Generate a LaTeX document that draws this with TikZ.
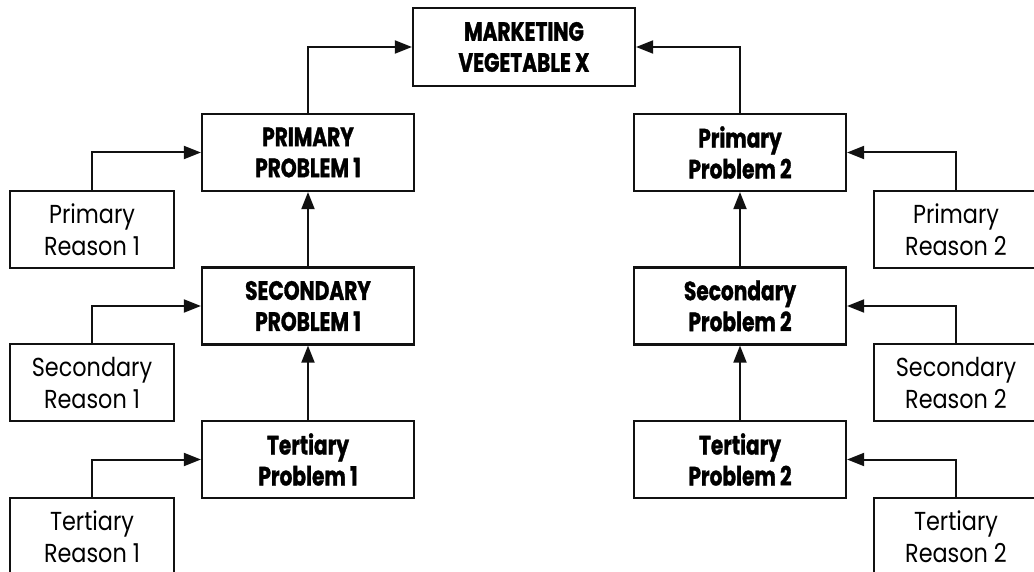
\documentclass[tikz,border=0pt]{standalone}
\usepackage{fontspec}
\setmainfont{Poppins}[FakeStretch=0.86]
\newfontfamily\probfont{Poppins}[UprightFont=* Bold,FakeStretch=0.76,FakeBold=1.2]
\usepackage{tikz}
\usetikzlibrary{arrows.meta}
\definecolor{vegInk}{HTML}{111111}

\begin{document}
\begin{tikzpicture}[x=1pt,y=1pt,
  goal/.style={draw=vegInk,line width=2.2pt,minimum width=222pt,minimum height=78pt,
               inner sep=0pt,align=center,font=\probfont\fontsize{26.5}{31}\selectfont},
  prob/.style={draw=vegInk,line width=2.2pt,minimum width=212pt,minimum height=77pt,
               inner sep=0pt,align=center,font=\probfont\fontsize{26.5}{31}\selectfont},
  reason/.style={draw=vegInk,line width=2.2pt,minimum width=164pt,minimum height=77pt,
               inner sep=0pt,align=center,font=\fontsize{26}{32}\selectfont},
  arr/.style={-{Triangle[length=17pt,width=13pt]},vegInk,line width=2pt}]

\useasboundingbox (0,0) rectangle (1034,-572);

%% Goal (top)
\node[goal] (goal) at (524,-47) {MARKETING\\VEGETABLE X};

%% Problem chain 1 (left)
\node[prob] (pp1) at (308,-152.5) {PRIMARY\\PROBLEM 1};
\node[prob] (sp1) at (308,-306)   {SECONDARY\\PROBLEM 1};
\node[prob] (tp1) at (308,-459.5) {Tertiary\\Problem 1};

\node[reason] (pr1) at (92,-229.5) {Primary\\Reason 1};
\node[reason] (sr1) at (92,-382.5) {Secondary\\Reason 1};
\node[reason] (tr1) at (92,-536.5) {Tertiary\\Reason 1};

%% Problem chain 2 (right)
\node[prob] (pp2) at (740,-152.5) {Primary\\Problem 2};
\node[prob] (sp2) at (740,-306)   {Secondary\\Problem 2};
\node[prob] (tp2) at (740,-459.5) {Tertiary\\Problem 2};

\node[reason] (pr2) at (956,-229.5) {Primary\\Reason 2};
\node[reason] (sr2) at (956,-382.5) {Secondary\\Reason 2};
\node[reason] (tr2) at (956,-536.5) {Tertiary\\Reason 2};

%% Arrows
\draw[arr] (pp1.north) |- (goal.west);
\draw[arr] (pp2.north) |- (goal.east);
\draw[arr] (sp1) -- (pp1);  \draw[arr] (tp1) -- (sp1);
\draw[arr] (sp2) -- (pp2);  \draw[arr] (tp2) -- (sp2);

\draw[arr] (pr1.north) |- (pp1.west);
\draw[arr] (sr1.north) |- (sp1.west);
\draw[arr] (tr1.north) |- (tp1.west);
\draw[arr] (pr2.north) |- (pp2.east);
\draw[arr] (sr2.north) |- (sp2.east);
\draw[arr] (tr2.north) |- (tp2.east);
\end{tikzpicture}
\end{document}
